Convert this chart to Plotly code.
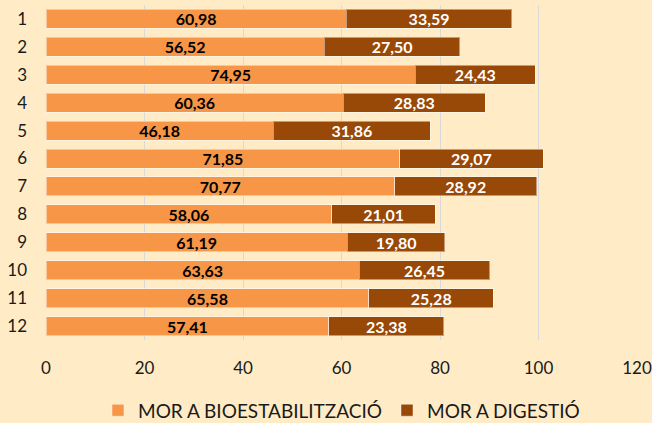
import plotly.graph_objects as go

categories = ["1", "2", "3", "4", "5", "6", "7", "8", "9", "10", "11", "12"]
bioestab = [60.98, 56.52, 74.95, 60.36, 46.18, 71.85, 70.77, 58.06, 61.19, 63.63, 65.58, 57.41]
digestio = [33.59, 27.50, 24.43, 28.83, 31.86, 29.07, 28.92, 21.01, 19.80, 26.45, 25.28, 23.38]
x_ticks = [0, 20, 40, 60, 80, 100, 120]

def fmt(v):
    return f"{v:.2f}".replace(".", ",")

bg = "#FFEBC5"
fig = go.Figure()
fig.add_trace(go.Bar(
    y=categories, x=bioestab, orientation="h", name="MOR A BIOESTABILITZACIÓ",
    marker=dict(color="#F79646", line=dict(color="rgba(255,255,255,0.45)", width=1)),
    text=[fmt(v) for v in bioestab], textposition="inside", insidetextanchor="middle",
    constraintext="none", cliponaxis=False,
    textfont=dict(family="Lato", size=16, color="black", weight="bold"),
    textangle=0, hoverinfo="skip",
))
fig.add_trace(go.Bar(
    y=categories, x=digestio, orientation="h", name="MOR A DIGESTIÓ",
    marker=dict(color="#984807", line=dict(color="rgba(255,255,255,0.45)", width=1)),
    text=[fmt(v) for v in digestio], textposition="inside", insidetextanchor="middle",
    constraintext="none", cliponaxis=False,
    textfont=dict(family="Lato", size=16, color="white", weight="bold"),
    textangle=0, hoverinfo="skip",
))
fig.update_layout(
    barmode="stack", bargap=0.32,
    width=652, height=423,
    margin=dict(l=46, r=15, t=5, b=83, autoexpand=False),
    paper_bgcolor=bg, plot_bgcolor=bg,
    font=dict(family="Lato", size=17, color="#1a1a1a"),
    xaxis=dict(range=[0, 120], tickvals=x_ticks, showgrid=True, gridcolor="#D9D9D9",
               gridwidth=1, zeroline=False, showline=False, ticks="", ticklen=0,
               tickfont=dict(size=17), ticklabelstandoff=16, automargin=False),
    yaxis=dict(autorange="reversed", showgrid=False, showline=False, ticks="",
               ticklabelstandoff=18, tickfont=dict(size=17), automargin=False),
    legend=dict(orientation="h", x=0.5, xanchor="center", y=-0.21, yanchor="middle",
                font=dict(size=19), traceorder="normal", itemwidth=30),
    showlegend=True,
)
fig.write_html("out.html", config={"displayModeBar": False},
               post_script="document.body.style.margin='0';")
